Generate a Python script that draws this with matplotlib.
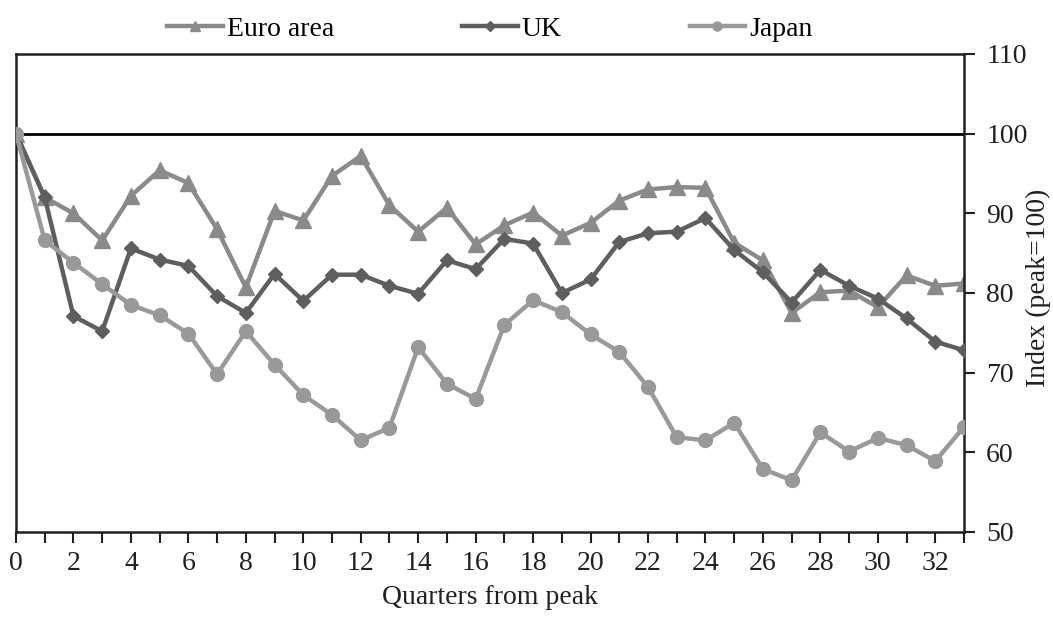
import numpy as np
import matplotlib.pyplot as plt

plt.rcParams['font.family'] = ['Liberation Serif', 'DejaVu Serif']

# quarters from peak, index values (peak = 100)
quarters = list(range(34))

euro_area = [100.0, 92.0, 90.0, 86.6, 92.2, 95.4, 93.8, 88.0, 80.7, 90.3,
             89.1, 94.7, 97.2, 91.0, 87.7, 90.7, 86.1, 88.5, 90.1, 87.2,
             88.8, 91.6, 93.0, 93.3, 93.2, 86.3, 84.1, 77.5, 80.1, 80.3,
             78.2, 82.2, 80.9, 81.2]

uk = [100.0, 92.0, 77.1, 75.2, 85.6, 84.2, 83.4, 79.6, 77.5, 82.4,
      79.0, 82.3, 82.3, 80.9, 79.9, 84.1, 83.0, 86.8, 86.2, 80.0,
      81.7, 86.4, 87.5, 87.7, 89.4, 85.4, 82.6, 78.8, 82.9, 80.9,
      79.3, 76.8, 73.9, 72.8]

japan = [100.0, 86.6, 83.8, 81.1, 78.5, 77.2, 74.9, 69.8, 75.2, 71.0,
         67.2, 64.7, 61.5, 63.1, 73.2, 68.6, 66.7, 76.0, 79.1, 77.6,
         74.8, 72.6, 68.2, 61.9, 61.5, 63.7, 57.9, 56.5, 62.5, 60.1,
         61.8, 60.9, 58.9, 63.2]

fig = plt.figure(figsize=(10.53, 6.22), dpi=100)
ax = fig.add_axes([0.0152, 0.1447, 0.9003, 0.7685])

ax.axhline(100, color='black', linewidth=2.0, zorder=1)

ax.plot(quarters, euro_area, color='#8a8a8a', linewidth=3.2, marker='^',
        markersize=11, label='Euro area', zorder=2)
ax.plot(quarters, uk, color='#5e5e5e', linewidth=3.2, marker='D',
        markersize=7.5, label='UK', zorder=3)
ax.plot(quarters, japan, color='#999999', linewidth=3.2, marker='o',
        markersize=10, label='Japan', zorder=4)

ax.set_xlim(0, 33)
ax.set_ylim(50, 110)

ax.set_xticks(range(0, 34))
ax.set_xticklabels([str(q) if q % 2 == 0 else '' for q in range(34)])
ax.set_yticks(range(50, 111, 10))

ax.yaxis.tick_right()
ax.tick_params(axis='both', direction='out', length=8, width=1.5,
               labelsize=20, color='#231f20', labelcolor='#231f20')
ax.tick_params(axis='x', pad=6)
ax.tick_params(axis='y', pad=8)

for s in ax.spines.values():
    s.set_linewidth(1.8)
    s.set_color('#231f20')

ax.set_xlabel('Quarters from peak', fontsize=20, color='#231f20', labelpad=6)
ax.set_ylabel('Index (peak=100)', fontsize=20, color='#231f20',
              rotation=90, va='center', ha='center')
ax.yaxis.set_label_coords(1.079, 0.51)

ax.legend(loc='lower center', bbox_to_anchor=(0.5, 0.99), ncol=3,
          frameon=False, fontsize=20, handlelength=2.0, handletextpad=0.15,
          columnspacing=4.6, borderaxespad=0.2, markerscale=0.65)

fig.savefig('out.png', dpi=100)
